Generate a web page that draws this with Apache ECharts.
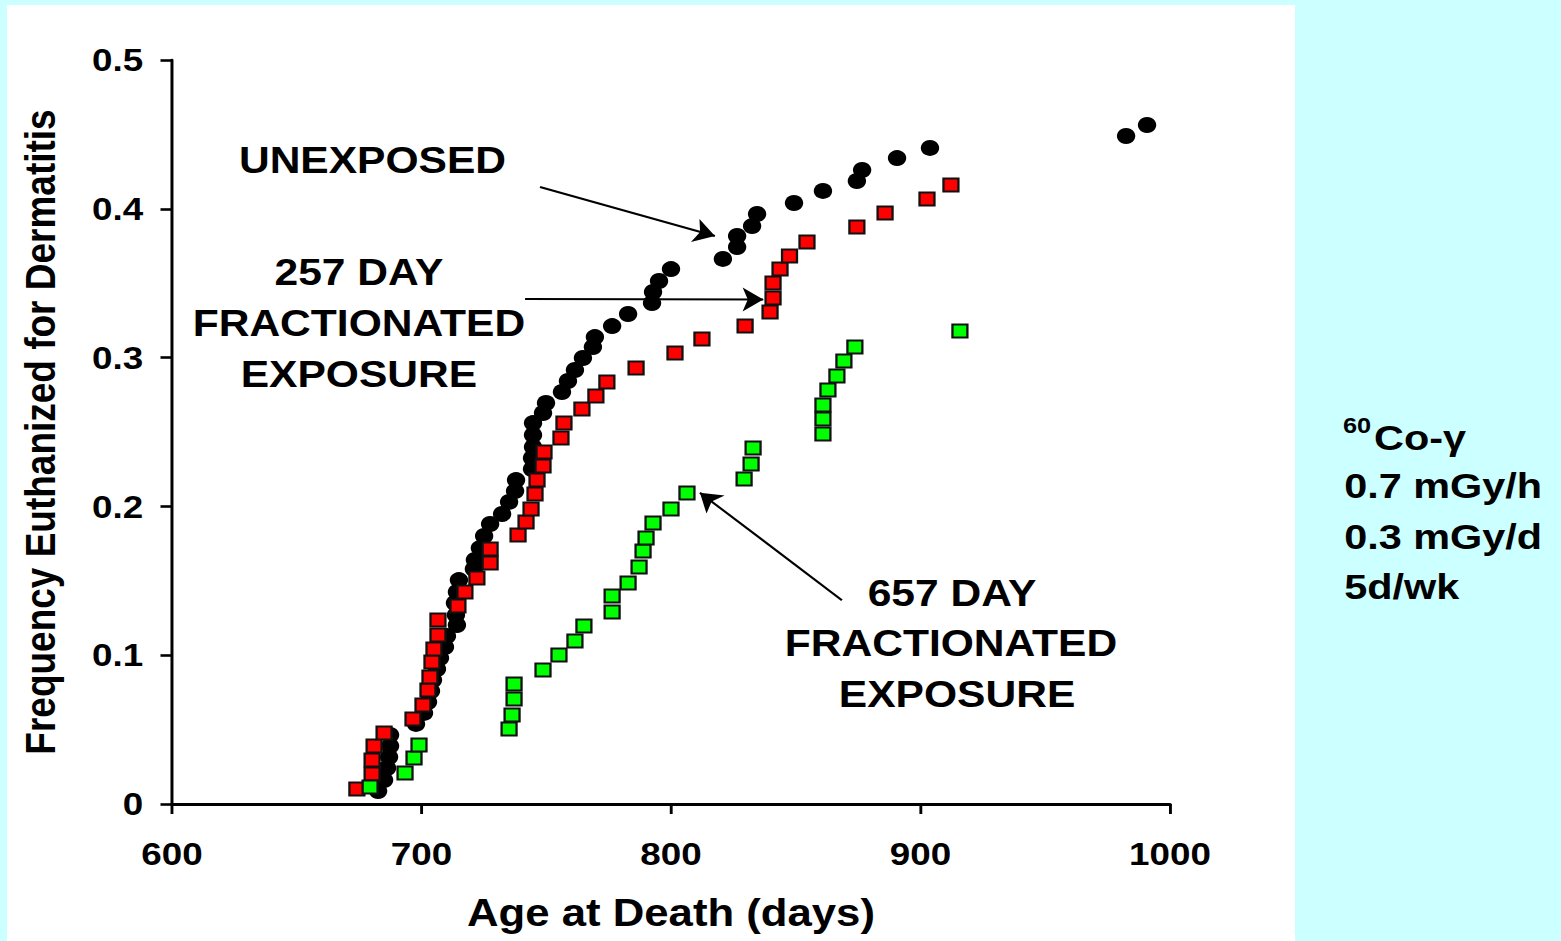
<!DOCTYPE html>
<html>
<head>
<meta charset="utf-8">
<script src="https://cdn.jsdelivr.net/npm/echarts@6/dist/echarts.min.js"></script>
<style>
  html, body { margin: 0; padding: 0; background: #ccffff; overflow: hidden; width: 1561px; height: 941px; }
  #panel { position: absolute; left: 7px; top: 5px; width: 1288px; height: 936px; background: #ffffff; }
  #chart { position: absolute; left: 0; top: 0; width: 1357px; height: 941px;
           transform-origin: 0 0; transform: scaleX(1.150332); }
</style>
</head>
<body>
<div id="panel"></div>
<div id="chart"></div>
<script>
// Age at death (days) and cumulative frequency euthanized for dermatitis
const unexposedDays = [682.6, 685.0, 686.2, 687.0, 687.4, 687.4, 697.8, 701.0, 702.6, 703.8,
  704.6, 706.2, 707.4, 709.4, 710.2, 714.2, 713.8, 713.4, 714.2, 715.0,
  721.0, 721.4, 723.4, 725.1, 727.5, 732.3, 735.1, 737.5, 737.9, 744.3,
  744.3, 744.7, 744.7, 744.7, 748.7, 749.9, 756.3, 758.7, 761.5, 764.7,
  768.7, 769.5, 776.4, 782.8, 792.4, 792.8, 795.2, 800.0, 820.8, 826.5,
  826.5, 832.5, 834.5, 849.3, 860.9, 874.5, 876.6, 890.6, 903.8, 982.4, 990.8];
const unexposedFreq = [0.0087, 0.0161, 0.0242, 0.0316, 0.0390, 0.0464, 0.0538, 0.0612, 0.0685, 0.0759,
  0.0833, 0.0907, 0.0981, 0.1055, 0.1129, 0.1203, 0.1270, 0.1351, 0.1425, 0.1505,
  0.1579, 0.1640, 0.1720, 0.1801, 0.1882, 0.1949, 0.2030, 0.2103, 0.2177, 0.2251,
  0.2325, 0.2399, 0.2480, 0.2560, 0.2628, 0.2695, 0.2769, 0.2843, 0.2917, 0.2997,
  0.3071, 0.3138, 0.3212, 0.3293, 0.3367, 0.3441, 0.3515, 0.3595, 0.3663, 0.3743,
  0.3817, 0.3884, 0.3965, 0.4039, 0.4120, 0.4187, 0.4261, 0.4341, 0.4409, 0.4489, 0.4563];

const day257Days = [674.1, 680.2, 680.2, 681.0, 685.0, 696.6, 700.6, 702.6, 703.4, 704.2,
  705.0, 706.6, 706.6, 714.6, 717.4, 722.2, 727.5, 727.5, 738.7, 741.9,
  743.9, 745.5, 746.3, 748.7, 749.1, 755.9, 757.1, 764.3, 769.9, 774.3,
  786.0, 801.6, 812.4, 829.7, 839.7, 840.9, 840.9, 843.7, 847.5, 854.5,
  874.5, 885.8, 902.6, 912.2];
const day257Freq = [0.0101, 0.0202, 0.0296, 0.0390, 0.0477, 0.0571, 0.0665, 0.0766, 0.0853, 0.0954,
  0.1042, 0.1136, 0.1237, 0.1331, 0.1425, 0.1519, 0.1620, 0.1714, 0.1808, 0.1895,
  0.1983, 0.2083, 0.2177, 0.2272, 0.2366, 0.2460, 0.2560, 0.2655, 0.2742, 0.2836,
  0.2930, 0.3031, 0.3125, 0.3212, 0.3306, 0.3401, 0.3501, 0.3595, 0.3683, 0.3777,
  0.3878, 0.3972, 0.4066, 0.4160];

const day657Days = [679.4, 693.4, 697.0, 699.0, 735.1, 736.3, 737.1, 737.1, 748.7, 755.1,
  761.5, 765.1, 776.4, 776.4, 782.8, 787.2, 788.8, 790.0, 792.8, 800.0,
  806.4, 829.3, 832.1, 832.9, 860.9, 860.9, 860.9, 862.9, 866.5, 869.3,
  873.7, 915.8];
const day657Freq = [0.0114, 0.0208, 0.0309, 0.0397, 0.0504, 0.0598, 0.0706, 0.0806, 0.0901, 0.1001,
  0.1095, 0.1196, 0.1290, 0.1398, 0.1485, 0.1593, 0.1700, 0.1788, 0.1888, 0.1983,
  0.2090, 0.2184, 0.2285, 0.2392, 0.2487, 0.2587, 0.2681, 0.2782, 0.2876, 0.2977,
  0.3071, 0.3179];

// Axis ticks
const xTicks = { min: 600, max: 1000, step: 100 };
const yTicks = { min: 0, max: 0.5, step: 0.1 };

// Pointer arrows from the annotations to their curves: [fromDay, fromFreq, toDay, toFreq]
const arrowUnexposed = [747.5, 0.4147, 817.6, 0.3817];
const arrow257 = [741.5, 0.3394, 837.0, 0.3390];
const arrow657 = [868.5, 0.1370, 811.6, 0.2092];

const zip = (xs, ys) => xs.map((x, i) => [x, ys[i]]);
const FONT = '"Liberation Sans", Arial, Helvetica, sans-serif';

const chart = echarts.init(document.getElementById('chart'), null, { renderer: 'svg' });

const arrowLine = a => [
  { coord: [a[0], a[1]], symbol: 'none' },
  { coord: [a[2], a[3]], symbol: 'arrow', symbolSize: 18 }
];

const annotation = (text, x, y, size) => ({
  type: 'text', x: x, y: y, silent: true, z: 100,
  style: { text: text, fill: '#000', font: 'bold ' + size + 'px ' + FONT,
           textAlign: 'center', textVerticalAlign: 'middle' }
});
const sideText = (text, x, y, size) => ({
  type: 'text', x: x, y: y, silent: true, z: 100,
  style: { text: text, fill: '#000', font: 'bold ' + size + 'px ' + FONT,
           textAlign: 'left', textVerticalAlign: 'middle' }
});

chart.setOption({
  animation: false,
  backgroundColor: 'transparent',
  grid: { left: 149.52, right: 339.9, top: 60, bottom: 137, containLabel: false },
  xAxis: {
    type: 'value', min: xTicks.min, max: xTicks.max, interval: xTicks.step,
    name: 'Age at Death (days)', nameLocation: 'middle', nameGap: 90,
    nameTextStyle: { fontFamily: FONT, fontWeight: 'bold', fontSize: 38, color: '#000' },
    axisLine: { show: true, onZero: false, lineStyle: { color: '#000', width: 3 } },
    axisTick: { show: true, length: 10, lineStyle: { color: '#000', width: 2.5 } },
    axisLabel: { fontFamily: FONT, fontWeight: 'bold', fontSize: 32, color: '#000', margin: 34,
                 formatter: v => String(v) },
    splitLine: { show: false }
  },
  yAxis: {
    type: 'value', min: yTicks.min, max: yTicks.max, interval: yTicks.step,
    name: 'Frequency Euthanized for Dermatitis', nameLocation: 'middle', nameGap: 96,
    nameTextStyle: { fontFamily: FONT, fontWeight: 'bold', fontSize: 37, color: '#000' },
    axisLine: { show: true, onZero: false, lineStyle: { color: '#000', width: 2.6 } },
    axisTick: { show: true, length: 10, lineStyle: { color: '#000', width: 2.6 } },
    axisLabel: { fontFamily: FONT, fontWeight: 'bold', fontSize: 32, color: '#000', margin: 25,
                 formatter: v => String(Math.round(v * 10) / 10) },
    splitLine: { show: false }
  },
  series: [
    {
      name: 'UNEXPOSED', type: 'scatter', z: 2,
      data: zip(unexposedDays, unexposedFreq),
      symbol: 'circle', symbolSize: 16,
      itemStyle: { color: '#000000', opacity: 1 }
    },
    {
      name: '257 DAY FRACTIONATED EXPOSURE', type: 'scatter', z: 3,
      data: zip(day257Days, day257Freq),
      symbol: 'rect', symbolSize: 13,
      itemStyle: { color: '#ff0000', borderColor: '#111', borderWidth: 2, opacity: 1 }
    },
    {
      name: '657 DAY FRACTIONATED EXPOSURE', type: 'scatter', z: 4,
      data: zip(day657Days, day657Freq),
      symbol: 'rect', symbolSize: 13,
      itemStyle: { color: '#00ff00', borderColor: '#111', borderWidth: 2, opacity: 1 }
    },
    {
      name: 'arrows', type: 'scatter', z: 5, data: [],
      markLine: {
        silent: true, animation: false,
        label: { show: false },
        lineStyle: { type: 'solid', color: '#000', width: 2 },
        emphasis: { disabled: true },
        data: [arrowLine(arrowUnexposed), arrowLine(arrow257), arrowLine(arrow657)]
      }
    }
  ],
  graphic: { elements: [
    annotation('UNEXPOSED', 323.8, 160, 37),
    annotation('257 DAY', 312, 272, 37),
    annotation('FRACTIONATED', 312, 323, 37),
    annotation('EXPOSURE', 312, 374, 37),
    annotation('657 DAY', 827.6, 593, 37),
    annotation('FRACTIONATED', 826.7, 643, 37),
    annotation('EXPOSURE', 832, 694, 37),
    sideText('60', 1167.5, 426, 22),
    sideText('Co-γ', 1194.5, 437.5, 36),
    sideText('0.7 mGy/h', 1168.5, 485, 36),
    sideText('0.3 mGy/d', 1168.5, 536.5, 36),
    sideText('5d/wk', 1168.5, 586.6, 36)
  ] }
});
</script>
</body>
</html>
